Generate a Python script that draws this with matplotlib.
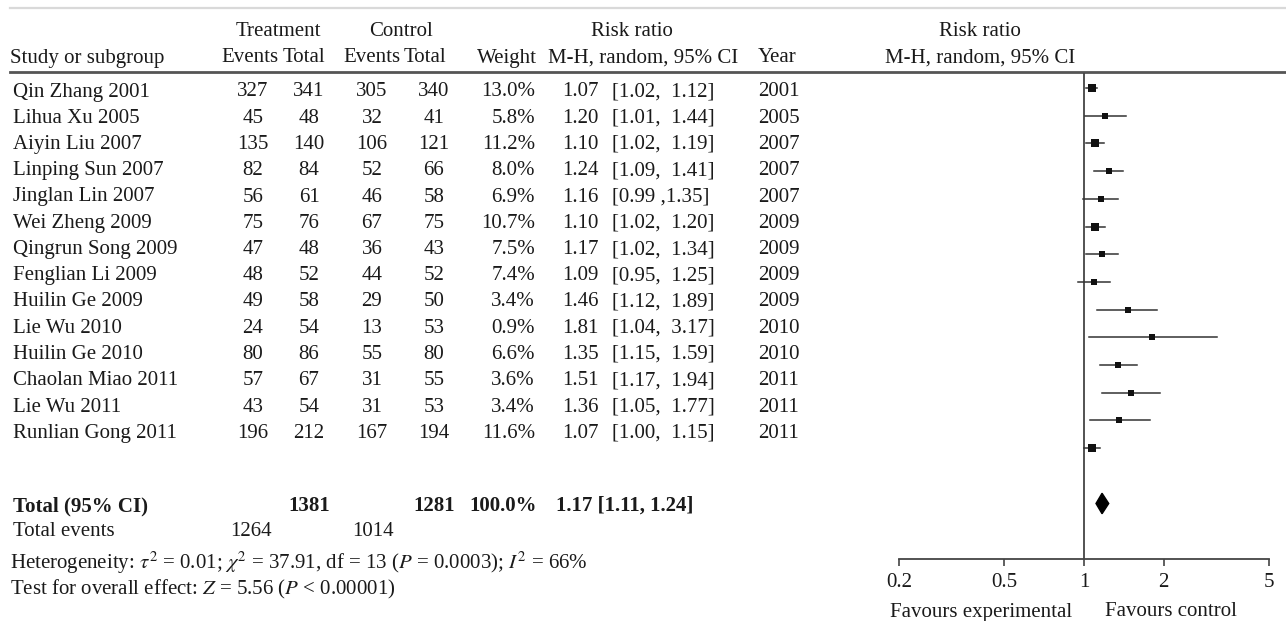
import numpy as np
import matplotlib
matplotlib.use("Agg")
import matplotlib.pyplot as plt

plt.rcParams["font.family"] = ["Liberation Serif", "DejaVu Serif"]
plt.rcParams["mathtext.fontset"] = "stix"

# ---- DATA ----
studies = ["Qin Zhang 2001", "Lihua Xu 2005", "Aiyin Liu 2007", "Linping Sun 2007",
           "Jinglan Lin 2007", "Wei Zheng 2009", "Qingrun Song 2009", "Fenglian Li 2009",
           "Huilin Ge 2009", "Lie Wu 2010", "Huilin Ge 2010", "Chaolan Miao 2011",
           "Lie Wu 2011", "Runlian Gong 2011"]
trt_events = [327, 45, 135, 82, 56, 75, 47, 48, 49, 24, 80, 57, 43, 196]
trt_total = [341, 48, 140, 84, 61, 76, 48, 52, 58, 54, 86, 67, 54, 212]
ctl_events = [305, 32, 106, 52, 46, 67, 36, 44, 29, 13, 55, 31, 31, 167]
ctl_total = [340, 41, 121, 66, 58, 75, 43, 52, 50, 53, 80, 55, 53, 194]
weights = [13.0, 5.8, 11.2, 8.0, 6.9, 10.7, 7.5, 7.4, 3.4, 0.9, 6.6, 3.6, 3.4, 11.6]
rr = [1.07, 1.20, 1.10, 1.24, 1.16, 1.10, 1.17, 1.09, 1.46, 1.81, 1.35, 1.51, 1.36, 1.07]
ci_lo = [1.02, 1.01, 1.02, 1.09, 0.99, 1.02, 1.02, 0.95, 1.12, 1.04, 1.15, 1.17, 1.05, 1.00]
ci_hi = [1.12, 1.44, 1.19, 1.41, 1.35, 1.20, 1.34, 1.25, 1.89, 3.17, 1.59, 1.94, 1.77, 1.15]
ci_labels = ["[1.02,  1.12]", "[1.01,  1.44]", "[1.02,  1.19]", "[1.09,  1.41]",
             "[0.99 ,1.35]", "[1.02,  1.20]", "[1.02,  1.34]", "[0.95,  1.25]",
             "[1.12,  1.89]", "[1.04,  3.17]", "[1.15,  1.59]", "[1.17,  1.94]",
             "[1.05,  1.77]", "[1.00,  1.15]"]
years = [2001, 2005, 2007, 2007, 2007, 2009, 2009, 2009, 2009, 2010, 2010, 2011, 2011, 2011]

total_trt, total_ctl = 1381, 1281
events_trt, events_ctl = 1264, 1014
pooled_rr, pooled_lo, pooled_hi = 1.17, 1.11, 1.24

ticks = [0.2, 0.5, 1, 2, 5]
tick_labels = ["0.2", "0.5", "1", "2", "5"]

FS = 15
INK = "#1a1a1a"
W, H = 1286, 621

fig = plt.figure(figsize=(W / 100, H / 100), dpi=100)

# background axes in pixel coordinates for the table
bg = fig.add_axes([0, 0, 1, 1])
bg.set_xlim(0, W)
bg.set_ylim(H, 0)
bg.axis("off")

def txt(x, y, s, ha="left", **kw):
    bg.text(x, y, s, ha=ha, va="center", fontsize=FS, color=INK, **kw)

# rules
bg.plot([10, W], [8, 8], color="#d9d9d9", lw=1.6)
bg.plot([10, W], [72, 72], color="#555555", lw=2.0)

# ---- HEADER ----
txt(278, 32, "Treatment", ha="center")
txt(401, 32, "Control", ha="center")
txt(632, 32, "Risk ratio", ha="center")
txt(980, 32, "Risk ratio", ha="center")
txt(10, 58, "Study or subgroup")
txt(279, 58, "Events", ha="right")
txt(283, 58, "Total")
txt(400, 58, "Events", ha="right")
txt(404, 58, "Total")
txt(537, 58, "Weight", ha="right")
txt(548, 58, "M-H, random, 95% CI")
txt(758, 58, "Year")
txt(980, 58, "M-H, random, 95% CI", ha="center")

# ---- ROWS ----
row_y0, row_dy = 92, 26.25
for i, name in enumerate(studies):
    y = row_y0 + i * row_dy
    txt(13, y, name)
    txt(253, y, str(trt_events[i]), ha="center")
    txt(309, y, str(trt_total[i]), ha="center")
    txt(372, y, str(ctl_events[i]), ha="center")
    txt(434, y, str(ctl_total[i]), ha="center")
    txt(535, y, f"{weights[i]:.1f}%", ha="right")
    txt(599, y, f"{rr[i]:.2f}", ha="right")
    txt(612, y, ci_labels[i])
    txt(758, y, str(years[i]))

# ---- TOTALS ----
y_tot = 506
txt(13, y_tot, "Total (95% CI)", fontweight="bold")
txt(309, y_tot, str(total_trt), ha="center", fontweight="bold")
txt(434, y_tot, str(total_ctl), ha="center", fontweight="bold")
txt(537, y_tot, "100.0%", ha="right", fontweight="bold")
txt(556, y_tot, f"{pooled_rr:.2f} [{pooled_lo:.2f}, {pooled_hi:.2f}]", fontweight="bold")
txt(13, 531, "Total events")
txt(251, 531, str(events_trt), ha="center")
txt(373, 531, str(events_ctl), ha="center")
txt(10, 563, r"Heterogeneity: $\tau^2$ = 0.01; $\chi^2$ = 37.91, df = 13 ($P$ = 0.0003); $I^2$ = 66%")
txt(10, 589, r"Test for overall effect: $Z$ = 5.56 ($P$ < 0.00001)")

txt(1072, 612, "Favours experimental", ha="right")
txt(1105, 612, "Favours control")

# ---- FOREST PLOT ----
x0, x1 = 899, 1269
y_top, y_axis = 73, 559
ax = fig.add_axes([x0 / W, 1 - y_axis / H, (x1 - x0) / W, (y_axis - y_top) / H])
ax.set_xscale("log")
ax.set_xlim(0.2, 5)
mk_y0, mk_dy = 88, 27.7
ax.set_ylim((y_axis - mk_y0) / mk_dy, (y_top - mk_y0) / mk_dy)
ax.patch.set_alpha(0)

for s in ["top", "right", "left"]:
    ax.spines[s].set_visible(False)
ax.spines["bottom"].set_color("#444444")
ax.spines["bottom"].set_linewidth(1.3)

ax.axvline(1, color="#444444", lw=1.3, zorder=1)

for i in range(len(studies)):
    ax.plot([ci_lo[i], ci_hi[i]], [i, i], color="#333333", lw=1.1, zorder=2)
    side = (4.8 + 0.27 * weights[i]) * 0.72
    ax.plot(rr[i], i, marker="s", ms=side, color="#111111", mew=0, zorder=3)

yd = len(studies) + 1
hd = 0.37
ax.fill([pooled_lo, pooled_rr, pooled_hi, pooled_rr],
        [yd, yd - hd, yd, yd + hd], color="black", zorder=3)

ax.set_yticks([])
ax.set_xticks(ticks)
ax.set_xticklabels(tick_labels, fontsize=FS, color=INK)
ax.xaxis.set_minor_locator(matplotlib.ticker.NullLocator())
ax.tick_params(axis="x", direction="out", length=5, width=1.2, color="#444444", pad=5)

fig.savefig("out.png", dpi=100)
